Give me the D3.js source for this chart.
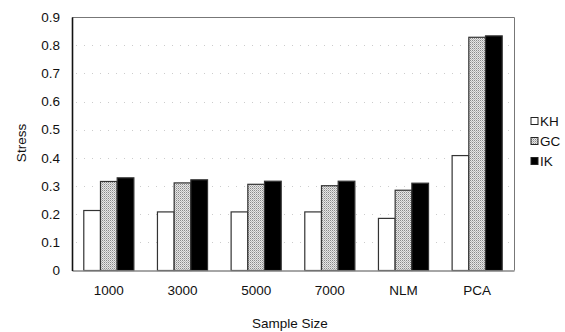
<!DOCTYPE html>
<html>
<head>
<meta charset="utf-8">
<script src="https://cdn.jsdelivr.net/npm/d3@7"></script>
<style>
  body { margin: 0; background: #fff; }
  svg { display: block; font-family: "Liberation Sans", Arial, sans-serif; }
</style>
</head>
<body>
<script>
// data
var categories = ["1000", "3000", "5000", "7000", "NLM", "PCA"];
var seriesNames = ["KH", "GC", "IK"];
var khValues = [0.213, 0.208, 0.208, 0.208, 0.185, 0.408];
var gcValues = [0.316, 0.311, 0.306, 0.301, 0.285, 0.828];
var ikValues = [0.329, 0.322, 0.317, 0.317, 0.310, 0.833];
var yTicks = [0, 0.1, 0.2, 0.3, 0.4, 0.5, 0.6, 0.7, 0.8, 0.9];

var w = 565, h = 332;
var padL = 72, padR = 514, padT = 17, padB = 270.5; // plot edges

var svg = d3.select("body").append("svg")
    .attr("width", w)
    .attr("height", h);

// fine grey checker fill for GC
var defs = svg.append("defs");
var pat = defs.append("pattern")
    .attr("id", "gcfill")
    .attr("patternUnits", "userSpaceOnUse")
    .attr("width", 2).attr("height", 2);
pat.append("rect").attr("width", 2).attr("height", 2).attr("fill", "#e6e6e6");
pat.append("rect").attr("width", 1).attr("height", 1).attr("fill", "#8a8a8a");
pat.append("rect").attr("x", 1).attr("y", 1).attr("width", 1).attr("height", 1).attr("fill", "#b8b8b8");

var fills = { KH: "#fff", GC: "url(#gcfill)", IK: "#000" };
var values = { KH: khValues, GC: gcValues, IK: ikValues };

var x0 = d3.scaleBand().domain(categories).range([padL, padR]).paddingInner(0.32).paddingOuter(0.16);
var x1 = d3.scaleBand().domain(seriesNames).range([0, x0.bandwidth()]);
var y = d3.scaleLinear().domain([0, 0.9]).range([padB, padT]);

// faint dotted grid
svg.append("g").selectAll("line")
    .data(yTicks.slice(1, -1))
    .enter().append("line")
    .attr("x1", padL + 4).attr("x2", padR - 4)
    .attr("y1", function(d){ return Math.round(y(d)) + 0.5; })
    .attr("y2", function(d){ return Math.round(y(d)) + 0.5; })
    .attr("stroke", "#ccc")
    .attr("stroke-width", 1)
    .attr("stroke-dasharray", "1,7");

// frame top / right
svg.append("path")
    .attr("d", "M" + padL + "," + (padT + 0.5) + "H" + (padR + 0.5) + "V" + padB)
    .attr("fill", "none").attr("stroke", "#777").attr("stroke-width", 1);

// bars
var rows = [];
categories.forEach(function(c, i){
    seriesNames.forEach(function(s){
        rows.push({ cat: c, series: s, value: values[s][i] });
    });
});

svg.append("g").selectAll("rect")
    .data(rows)
    .enter().append("rect")
    .attr("x", function(d){ return x0(d.cat) + x1(d.series); })
    .attr("y", function(d){ return y(d.value); })
    .attr("width", x1.bandwidth())
    .attr("height", function(d){ return padB - y(d.value); })
    .attr("fill", function(d){ return fills[d.series]; })
    .attr("stroke", "#333")
    .attr("stroke-width", 1.2);

// x axis
var xAxis = d3.axisBottom(x0).tickSize(0).tickPadding(15);
var gx = svg.append("g")
    .attr("transform", "translate(0," + padB + ")")
    .call(xAxis);
gx.select(".domain").attr("stroke", "#888").attr("stroke-width", 1.3);
gx.selectAll("text").attr("font-size", 13.5).attr("fill", "#111");

// y axis
var yAxis = d3.axisLeft(y).tickValues(yTicks).tickSize(0).tickPadding(12)
    .tickFormat(function(d){ return d === 0 ? "0" : d3.format(".1f")(d); });
var gy = svg.append("g")
    .attr("transform", "translate(" + padL + ",0)")
    .call(yAxis);
gy.select(".domain").attr("stroke", "#111").attr("stroke-width", 1.6);
gy.selectAll("text").attr("font-size", 13.5).attr("fill", "#111");

// axis titles
svg.append("text")
    .attr("x", 290).attr("y", 328)
    .attr("text-anchor", "middle")
    .attr("font-size", 13.5).attr("fill", "#111")
    .text("Sample Size");

svg.append("text")
    .attr("transform", "translate(26,143) rotate(-90)")
    .attr("text-anchor", "middle")
    .attr("font-size", 13.5).attr("fill", "#111")
    .text("Stress");

// legend
var legend = svg.append("g").selectAll("g")
    .data(seriesNames)
    .enter().append("g")
    .attr("transform", function(d, i){ return "translate(531," + (121 + i * 20) + ")"; });
legend.append("rect")
    .attr("x", 0).attr("y", -3.5)
    .attr("width", 7).attr("height", 7)
    .attr("fill", function(d){ return fills[d]; })
    .attr("stroke", "#222").attr("stroke-width", 1);
legend.append("text")
    .attr("x", 9).attr("y", 5)
    .attr("font-size", 13.5).attr("fill", "#111")
    .text(function(d){ return d; });
</script>
</body>
</html>
